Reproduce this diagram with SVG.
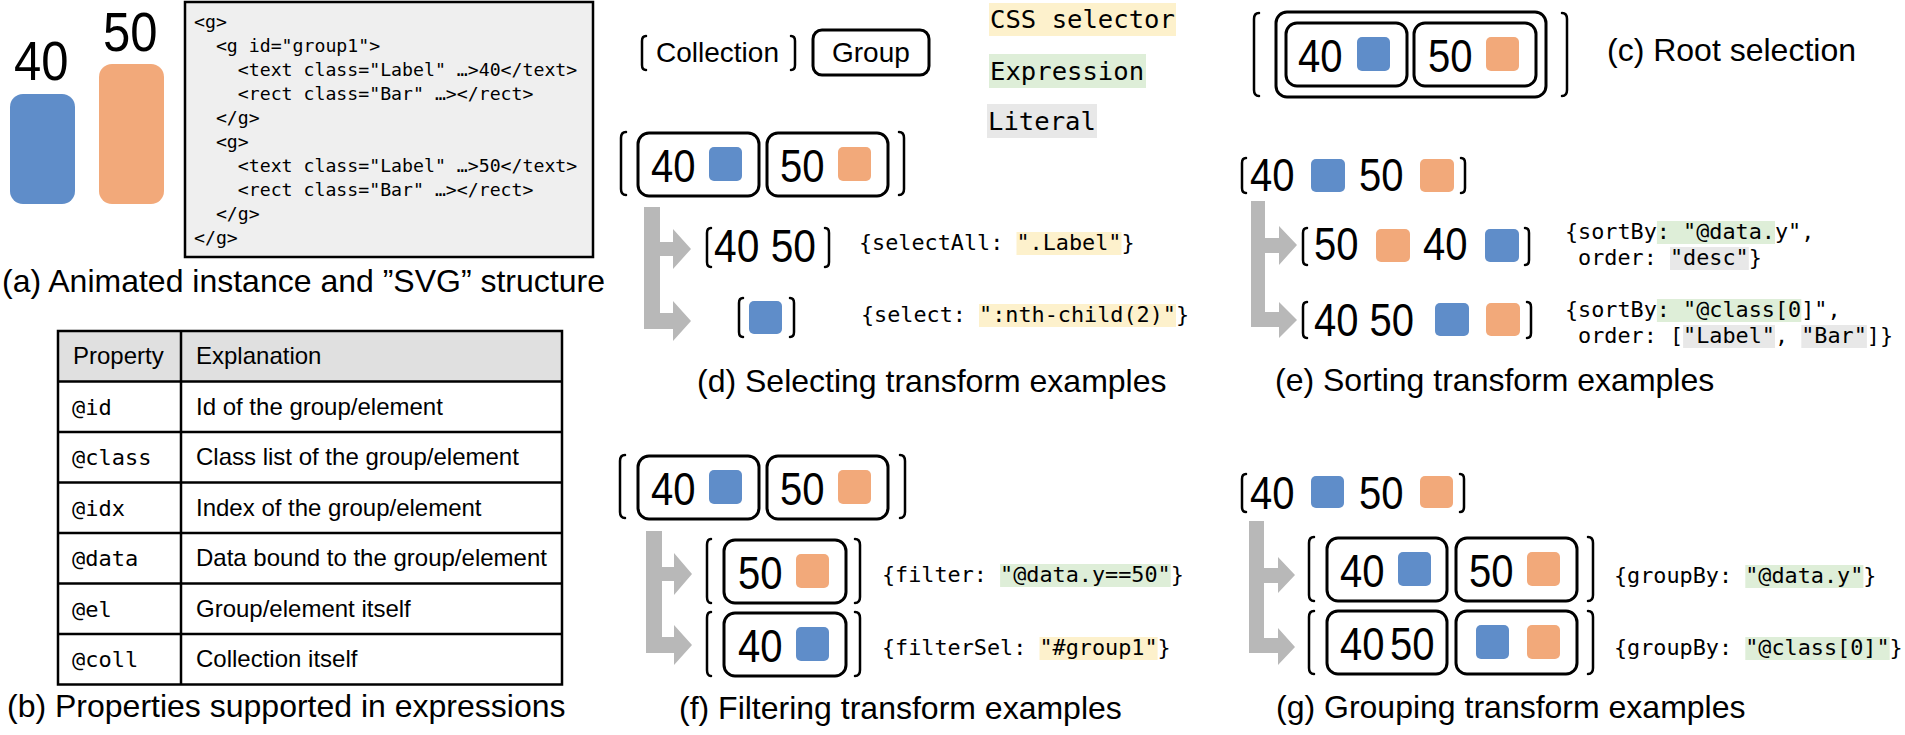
<svg xmlns="http://www.w3.org/2000/svg" width="1905" height="735" viewBox="0 0 1905 735">
<style>
.grp{fill:none;stroke:#000;stroke-width:3}
.br{fill:none;stroke:#000;stroke-width:2.5;stroke-linecap:round}
.num{font-family:"Liberation Sans",Arial,sans-serif;font-size:47px;fill:#000}
.cap{font-family:"Liberation Sans",Arial,sans-serif;font-size:32px;fill:#000}
.sans{font-family:"Liberation Sans",Arial,sans-serif;fill:#000}
.mono{font-family:"DejaVu Sans Mono",monospace;font-size:21.8px;fill:#000}
.code{font-family:"DejaVu Sans Mono",monospace;font-size:18.2px;fill:#000}
.tm{font-family:"DejaVu Sans Mono",monospace;font-size:22px;fill:#000}
.tt{font-family:"Liberation Sans",Arial,sans-serif;font-size:24px;fill:#000}
.lg{font-family:"DejaVu Sans Mono",monospace;font-size:25.6px;fill:#000}
.blue{fill:#5f8dc9}
.orange{fill:#f2a97a}
.arrow{fill:#b8b8b8}
.hy{fill:#fdf1cc}
.hg{fill:#deeed8}
.hl{fill:#e8e8e8}
.tbl{fill:none;stroke:#000;stroke-width:2.5}
</style>

<!-- (a) animated instance and SVG structure -->
<g id="panel-a">
  <text class="sans" x="14" y="80" font-size="56" textLength="54.5" lengthAdjust="spacingAndGlyphs">40</text>
  <text class="sans" x="103" y="51" font-size="56" textLength="54.5" lengthAdjust="spacingAndGlyphs">50</text>
  <rect class="blue" x="10" y="94" width="65" height="110" rx="13"/>
  <rect class="orange" x="99" y="64" width="65" height="140" rx="13"/>
  <rect x="185" y="2" width="408" height="255" fill="#efefef" stroke="#000" stroke-width="2.5"/>
  <text class="code" x="194" y="28">&lt;g&gt;</text>
  <text class="code" x="215.9" y="52">&lt;g id="group1"&gt;</text>
  <text class="code" x="237.8" y="76">&lt;text class="Label" …&gt;40&lt;/text&gt;</text>
  <text class="code" x="237.8" y="100">&lt;rect class="Bar" …&gt;&lt;/rect&gt;</text>
  <text class="code" x="215.9" y="124">&lt;/g&gt;</text>
  <text class="code" x="215.9" y="148">&lt;g&gt;</text>
  <text class="code" x="237.8" y="172">&lt;text class="Label" …&gt;50&lt;/text&gt;</text>
  <text class="code" x="237.8" y="196">&lt;rect class="Bar" …&gt;&lt;/rect&gt;</text>
  <text class="code" x="215.9" y="220">&lt;/g&gt;</text>
  <text class="code" x="194" y="244">&lt;/g&gt;</text>
  <text class="cap" x="2" y="292">(a) Animated instance and ”SVG” structure</text>
</g>

<!-- (b) table -->
<g id="panel-b">
  <rect x="58" y="331" width="504" height="50.5" fill="#e0e0e0"/>
  <rect class="tbl" x="58" y="331" width="504" height="353.5"/>
  <line class="tbl" x1="181" y1="331" x2="181" y2="684.5"/>
  <line class="tbl" x1="58" y1="381.5" x2="562" y2="381.5"/>
  <line class="tbl" x1="58" y1="432" x2="562" y2="432"/>
  <line class="tbl" x1="58" y1="482.5" x2="562" y2="482.5"/>
  <line class="tbl" x1="58" y1="533" x2="562" y2="533"/>
  <line class="tbl" x1="58" y1="583.5" x2="562" y2="583.5"/>
  <line class="tbl" x1="58" y1="634" x2="562" y2="634"/>
  <text class="tt" x="73" y="364">Property</text>
  <text class="tt" x="196" y="364">Explanation</text>
  <text class="tm" x="72" y="415">@id</text>
  <text class="tt" x="196" y="415">Id of the group/element</text>
  <text class="tm" x="72" y="465">@class</text>
  <text class="tt" x="196" y="465">Class list of the group/element</text>
  <text class="tm" x="72" y="516">@idx</text>
  <text class="tt" x="196" y="516">Index of the group/element</text>
  <text class="tm" x="72" y="566">@data</text>
  <text class="tt" x="196" y="566">Data bound to the group/element</text>
  <text class="tm" x="72" y="617">@el</text>
  <text class="tt" x="196" y="617">Group/element itself</text>
  <text class="tm" x="72" y="667">@coll</text>
  <text class="tt" x="196" y="667">Collection itself</text>
  <text class="cap" x="7" y="717">(b) Properties supported in expressions</text>
</g>

<!-- legend -->
<g id="legend">
  <path class="br" d="M646,36 Q642,36 642,41 L642,65 Q642,70 646,70"/>
  <text class="sans" x="656" y="62" font-size="28">Collection</text>
  <path class="br" d="M791,36 Q795,36 795,41 L795,65 Q795,70 791,70"/>
  <rect class="grp" x="813" y="30" width="116" height="45" rx="9"/>
  <text class="sans" x="832" y="62" font-size="28">Group</text>
  <rect class="hy" x="989" y="3" width="187" height="33"/>
  <text class="lg" x="990" y="28">CSS selector</text>
  <rect class="hg" x="989" y="54" width="157" height="34"/>
  <text class="lg" x="990" y="80">Expression</text>
  <rect class="hl" x="987" y="104" width="110" height="34"/>
  <text class="lg" x="988" y="130">Literal</text>
</g>

<!-- (c) root selection -->
<g id="panel-c">
  <path class="br" d="M1259,13 Q1254,13 1254,19 L1254,90 Q1254,96 1259,96"/>
  <path class="br" d="M1562,13 Q1567,13 1567,19 L1567,90 Q1567,96 1562,96"/>
  <rect class="grp" x="1276" y="12" width="270" height="85" rx="11"/>
  <rect class="grp" x="1286" y="23" width="121" height="63" rx="11"/>
  <text class="num" x="1298" y="72" textLength="44.5" lengthAdjust="spacingAndGlyphs">40</text>
  <rect class="blue" x="1357" y="37" width="33" height="34" rx="5"/>
  <rect class="grp" x="1414" y="23" width="122" height="63" rx="11"/>
  <text class="num" x="1428" y="72" textLength="44.5" lengthAdjust="spacingAndGlyphs">50</text>
  <rect class="orange" x="1486" y="37" width="33" height="34" rx="5"/>
  <text class="cap" x="1607" y="61">(c) Root selection</text>
</g>

<!-- (d) selecting -->
<g id="panel-d">
  <path class="br" d="M626,132 Q621,132 621,138 L621,189 Q621,195 626,195"/>
  <path class="br" d="M899,132 Q904,132 904,138 L904,189 Q904,195 899,195"/>
  <rect class="grp" x="638" y="133" width="121" height="63" rx="11"/>
  <text class="num" x="651" y="182" textLength="44.5" lengthAdjust="spacingAndGlyphs">40</text>
  <rect class="blue" x="709" y="147" width="33" height="34" rx="5"/>
  <rect class="grp" x="767" y="133" width="121" height="63" rx="11"/>
  <text class="num" x="780" y="182" textLength="44.5" lengthAdjust="spacingAndGlyphs">50</text>
  <rect class="orange" x="838" y="147" width="33" height="34" rx="5"/>

  <path class="br" d="M711,228 Q707,228 707,233 L707,262 Q707,267 711,267"/>
  <text class="num" x="714" y="262" textLength="102" lengthAdjust="spacingAndGlyphs">40 50</text>
  <path class="br" d="M825,228 Q829,228 829,233 L829,262 Q829,267 825,267"/>
  <rect class="hy" x="1016.5" y="232" width="105" height="23"/>
  <text class="mono" x="859" y="250">{selectAll: ".Label"}</text>

  <path class="br" d="M743,298 Q739,298 739,303 L739,332 Q739,337 743,337"/>
  <rect class="blue" x="749" y="301" width="33" height="33" rx="5"/>
  <path class="br" d="M790,298 Q794,298 794,303 L794,332 Q794,337 790,337"/>
  <rect class="hy" x="979" y="304" width="197" height="23"/>
  <text class="mono" x="861" y="322">{select: ":nth-child(2)"}</text>
  <text class="cap" x="697" y="392">(d) Selecting transform examples</text>
</g>

<!-- (e) sorting -->
<g id="panel-e">
  <path class="br" d="M1246,158 Q1242,158 1242,163 L1242,188 Q1242,193 1246,193"/>
  <text class="num" x="1250" y="191" textLength="44.5" lengthAdjust="spacingAndGlyphs">40</text>
  <rect class="blue" x="1311" y="159" width="34" height="33" rx="5"/>
  <text class="num" x="1359" y="191" textLength="44.5" lengthAdjust="spacingAndGlyphs">50</text>
  <rect class="orange" x="1420" y="159" width="34" height="33" rx="5"/>
  <path class="br" d="M1461,158 Q1465,158 1465,163 L1465,188 Q1465,193 1461,193"/>

  <path class="br" d="M1307,228 Q1303,228 1303,233 L1303,260 Q1303,265 1307,265"/>
  <text class="num" x="1314" y="260" textLength="44.5" lengthAdjust="spacingAndGlyphs">50</text>
  <rect class="orange" x="1376" y="229" width="34" height="33" rx="5"/>
  <text class="num" x="1423" y="260" textLength="44.5" lengthAdjust="spacingAndGlyphs">40</text>
  <rect class="blue" x="1485" y="229" width="34" height="33" rx="5"/>
  <path class="br" d="M1525,228 Q1529,228 1529,233 L1529,260 Q1529,265 1525,265"/>
  <rect class="hg" x="1656.9" y="221" width="118.1" height="23"/>
  <text class="mono" x="1565" y="239">{sortBy: "@data.y",</text>
  <rect class="hl" x="1670" y="247" width="78.8" height="23"/>
  <text class="mono" x="1578.1" y="265">order: "desc"}</text>

  <path class="br" d="M1307,302 Q1303,302 1303,307 L1303,333 Q1303,338 1307,338"/>
  <text class="num" x="1314" y="336" textLength="100" lengthAdjust="spacingAndGlyphs">40 50</text>
  <rect class="blue" x="1435" y="303" width="34" height="33" rx="5"/>
  <rect class="orange" x="1486" y="303" width="34" height="33" rx="5"/>
  <path class="br" d="M1527,302 Q1531,302 1531,307 L1531,333 Q1531,338 1527,338"/>
  <rect class="hg" x="1656.9" y="299" width="144.4" height="23"/>
  <text class="mono" x="1565" y="317">{sortBy: "@class[0]",</text>
  <rect class="hl" x="1683.1" y="325" width="91.9" height="23"/>
  <rect class="hl" x="1801.3" y="325" width="65.6" height="23"/>
  <text class="mono" x="1578.1" y="343">order: ["Label", "Bar"]}</text>
  <text class="cap" x="1275" y="391">(e) Sorting transform examples</text>
</g>

<!-- (f) filtering -->
<g id="panel-f">
  <path class="br" d="M625,455 Q620,455 620,461 L620,512 Q620,518 625,518"/>
  <path class="br" d="M900,455 Q905,455 905,461 L905,512 Q905,518 900,518"/>
  <rect class="grp" x="638" y="456" width="121" height="63" rx="11"/>
  <text class="num" x="651" y="505" textLength="44.5" lengthAdjust="spacingAndGlyphs">40</text>
  <rect class="blue" x="709" y="470" width="33" height="34" rx="5"/>
  <rect class="grp" x="767" y="456" width="121" height="63" rx="11"/>
  <text class="num" x="780" y="505" textLength="44.5" lengthAdjust="spacingAndGlyphs">50</text>
  <rect class="orange" x="838" y="470" width="33" height="34" rx="5"/>

  <path class="br" d="M711,539 Q707,539 707,545 L707,597 Q707,603 711,603"/>
  <rect class="grp" x="724" y="540" width="122" height="63" rx="11"/>
  <text class="num" x="738" y="589" textLength="44.5" lengthAdjust="spacingAndGlyphs">50</text>
  <rect class="orange" x="796" y="554" width="33" height="34" rx="5"/>
  <path class="br" d="M855,539 Q860,539 860,545 L860,597 Q860,603 855,603"/>
  <rect class="hg" x="1000.1" y="564" width="170.6" height="23"/>
  <text class="mono" x="882" y="582">{filter: "@data.y==50"}</text>

  <path class="br" d="M711,612 Q707,612 707,618 L707,670 Q707,676 711,676"/>
  <rect class="grp" x="724" y="613" width="122" height="63" rx="11"/>
  <text class="num" x="738" y="662" textLength="44.5" lengthAdjust="spacingAndGlyphs">40</text>
  <rect class="blue" x="796" y="627" width="33" height="34" rx="5"/>
  <path class="br" d="M855,612 Q860,612 860,618 L860,670 Q860,676 855,676"/>
  <rect class="hy" x="1039.5" y="637" width="118.1" height="23"/>
  <text class="mono" x="882" y="655">{filterSel: "#group1"}</text>
  <text class="cap" x="679" y="719">(f) Filtering transform examples</text>
</g>

<!-- (g) grouping -->
<g id="panel-g">
  <path class="br" d="M1246,474 Q1242,474 1242,479 L1242,507 Q1242,512 1246,512"/>
  <text class="num" x="1250" y="509" textLength="44.5" lengthAdjust="spacingAndGlyphs">40</text>
  <rect class="blue" x="1311" y="476" width="33" height="32" rx="5"/>
  <text class="num" x="1359" y="509" textLength="44.5" lengthAdjust="spacingAndGlyphs">50</text>
  <rect class="orange" x="1420" y="476" width="33" height="32" rx="5"/>
  <path class="br" d="M1460,474 Q1464,474 1464,479 L1464,507 Q1464,512 1460,512"/>

  <path class="br" d="M1314,537 Q1309,537 1309,543 L1309,595 Q1309,601 1314,601"/>
  <rect class="grp" x="1327" y="538" width="120" height="63" rx="11"/>
  <text class="num" x="1340" y="587" textLength="44.5" lengthAdjust="spacingAndGlyphs">40</text>
  <rect class="blue" x="1398" y="552" width="33" height="34" rx="5"/>
  <rect class="grp" x="1456" y="538" width="121" height="63" rx="11"/>
  <text class="num" x="1469" y="587" textLength="44.5" lengthAdjust="spacingAndGlyphs">50</text>
  <rect class="orange" x="1527" y="552" width="33" height="34" rx="5"/>
  <path class="br" d="M1588,537 Q1593,537 1593,543 L1593,595 Q1593,601 1588,601"/>
  <rect class="hg" x="1745.3" y="565" width="118.1" height="23"/>
  <text class="mono" x="1614" y="583">{groupBy: "@data.y"}</text>

  <path class="br" d="M1314,611 Q1309,611 1309,617 L1309,668 Q1309,674 1314,674"/>
  <rect class="grp" x="1327" y="611" width="120" height="63" rx="11"/>
  <text class="num" x="1340" y="660" textLength="44.5" lengthAdjust="spacingAndGlyphs">40</text>
  <text class="num" x="1390" y="660" textLength="44.5" lengthAdjust="spacingAndGlyphs">50</text>
  <rect class="grp" x="1456" y="611" width="121" height="63" rx="11"/>
  <rect class="blue" x="1476" y="625" width="33" height="34" rx="5"/>
  <rect class="orange" x="1527" y="625" width="33" height="34" rx="5"/>
  <path class="br" d="M1588,611 Q1593,611 1593,617 L1593,668 Q1593,674 1588,674"/>
  <rect class="hg" x="1745.3" y="637" width="144.4" height="23"/>
  <text class="mono" x="1614" y="655">{groupBy: "@class[0]"}</text>
  <text class="cap" x="1276" y="718">(g) Grouping transform examples</text>
</g>

<!-- connectors (transform arrows) -->
<g id="connectors">
  <path class="arrow" d="M644,207 L660,207 L660,242 L673,242 L673,229 L691,249 L673,269 L673,256 L660,256 L660,313 L673,313 L673,301 L691,321 L673,341 L673,329 L644,329 Z"/>
  <path class="arrow" d="M1251,201 L1265,201 L1265,238 L1279,238 L1279,226 L1297,245 L1279,265 L1279,253 L1265,253 L1265,312 L1279,312 L1279,302 L1297,320 L1279,338 L1279,327 L1251,327 Z"/>
  <path class="arrow" d="M646,531 L662,531 L662,567 L674,567 L674,553 L692,574 L674,595 L674,581 L662,581 L662,637 L674,637 L674,625 L692,645 L674,665 L674,653 L646,653 Z"/>
  <path class="arrow" d="M1249,521 L1264,521 L1264,568 L1278,568 L1278,557 L1295,575 L1278,593 L1278,583 L1264,583 L1264,638 L1278,638 L1278,628 L1295,647 L1278,665 L1278,653 L1249,653 Z"/>
</g>
</svg>
